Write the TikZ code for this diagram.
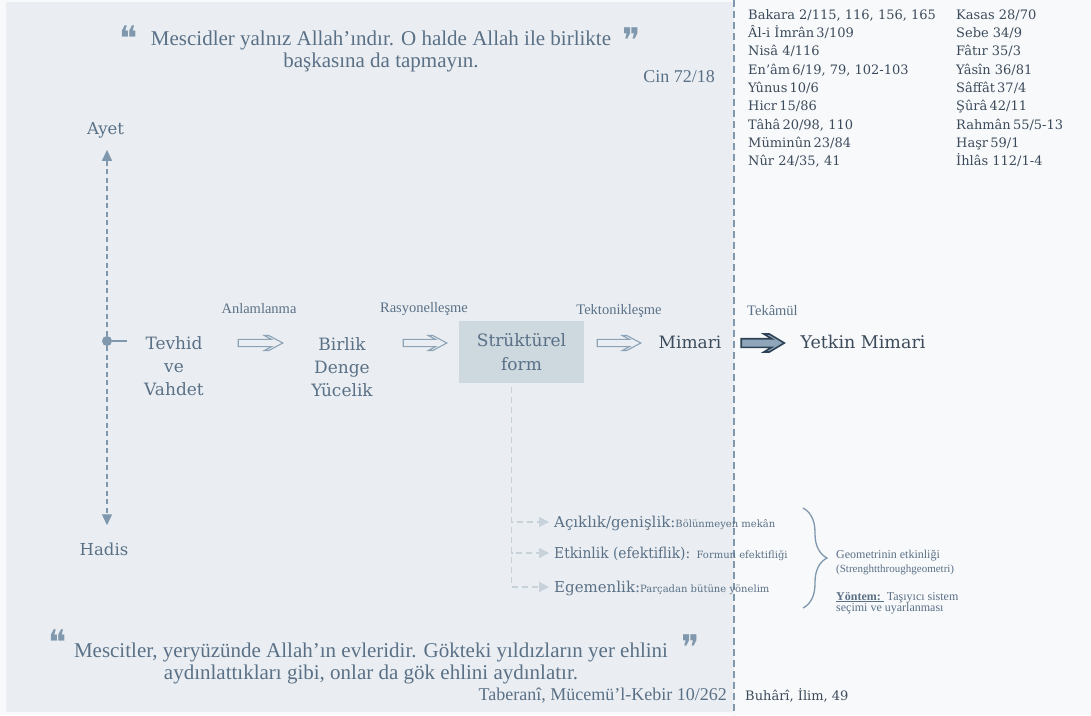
\documentclass[tikz,border=0pt]{standalone}
\usepackage{fontspec}
\setmainfont{DejaVu Serif}
\newfontfamily\djv{DejaVu Serif}
\newfontfamily\djs{DejaVu Sans}
\newfontfamily\tms{Liberation Serif}
\usetikzlibrary{arrows.meta,decorations.pathreplacing,calc}

\definecolor{pagebg}{HTML}{F8F9FB}
\definecolor{panelbg}{HTML}{EAEEF2}
\definecolor{boxbg}{HTML}{CDD8DF}
\definecolor{ink}{HTML}{5A7086}
\definecolor{inkdark}{HTML}{3C4B5B}
\definecolor{accent}{HTML}{7F98AE}
\definecolor{flowline}{HTML}{8CA2B6}
\definecolor{treeline}{HTML}{C8D2DB}
\definecolor{navy}{HTML}{2E4355}
\definecolor{steel}{HTML}{8FA5B9}

\newcommand\fs[2]{\fontsize{#1}{#2}\selectfont}

\begin{document}
\begin{tikzpicture}[x=1pt,y=-1pt,
  every node/.style={inner sep=0pt},
  maintxt/.style={font=\djv\fs{17}{23}, text=ink, align=center},
  tag/.style={font=\tms\fs{14.5}{17}, text=ink},
  quotetxt/.style={font=\tms\fs{21}{22}, text=ink, align=center},
  cite/.style={font=\tms\fs{18}{20}, text=ink},
  qmark/.style={font=\djs\fs{34}{34}, text=accent},
  reftxt/.style={font=\djv\fs{13}{16}, text=inkdark},
  itemtxt/.style={font=\djv\fs{15}{18}, text=ink},
  notetxt/.style={font=\tms\fs{12}{12}, text=ink},
  % outlined "implies" block arrow: shaft half height, head half height, head length, arm thickness
  fat/.style n args={4}{to path={let \p1=(\tikztostart), \p2=(\tikztotarget) in
      (\x1,{\y1+#1pt}) -- ({\x2-(#4+#1*#3/#2)*1pt},{\y1+#1pt}) -- ({\x2-(#4+#3)*1pt},{\y1+#2pt})
      -- ({\x2-#3pt},{\y1+#2pt}) -- (\x2,\y1) -- ({\x2-#3pt},{\y1-#2pt})
      -- ({\x2-(#4+#3)*1pt},{\y1-#2pt}) -- ({\x2-(#4+#1*#3/#2)*1pt},{\y1-#1pt})
      -- (\x1,{\y1-#1pt}) -- cycle}},
  flowarrow/.style={fat={3.6}{7.5}{14}{4.5}, draw=flowline, line width=1.1pt, line join=miter},
  strongarrow/.style={fat={4.3}{9}{15}{5.5}, draw=navy, fill=steel, line width=1.6pt, line join=miter},
  axisline/.style={draw=accent, line width=1.2pt, dash pattern=on 5pt off 3.5pt, -{Triangle[length=11pt,width=10pt]}},
  branchline/.style={draw=treeline, line width=1.1pt, dash pattern=on 6pt off 4pt, -{Triangle[length=10pt,width=10pt]}}
]
% backgrounds
\fill[pagebg] (0,0) rectangle (1091,715);
\useasboundingbox (0,0) rectangle (1091,715);
\fill[panelbg] (6,2) rectangle (734,712);
\draw[accent, line width=1.3pt, dash pattern=on 7pt off 4pt] (734,0) -- (734,715);

% top verse
\node[quotetxt, anchor=north] (ayah) at (381,31) {Mescidler yalnız Allah’ındır. O halde Allah ile birlikte\\başkasına da tapmayın.};
\node[qmark] (ayahopen) at (129,38) {❝};
\node[qmark] (ayahclose) at (632,40) {❞};
\node[cite, anchor=base east] (ayahsrc) at (715,82) {Cin 72/18};

% sources axis
\node[maintxt, font=\djv\fs{16.5}{20}, anchor=base] (ayet) at (105.5,134) {Ayet};
\node[maintxt, font=\djv\fs{16.5}{20}, anchor=base] (hadis) at (104,555) {Hadis};
\node[circle, fill=accent, minimum size=10pt] (hub) at (107,341) {};

% main chain
\node[maintxt, minimum width=64pt, anchor=north] (tevhid) at (174,336) {Tevhid\\ve\\Vahdet};
\node[maintxt, minimum width=64pt, anchor=north] (birlik) at (342,337) {Birlik\\Denge\\Yücelik};
\node[maintxt, fill=boxbg, minimum width=125pt, minimum height=62pt, font=\djv\fs{17}{24}] (sform) at (521.5,352) {Strüktürel\\form};
\node[maintxt, text=inkdark, minimum width=66pt] (mimari) at (690,342) {Mimari};
\node[maintxt, text=inkdark, minimum width=124pt, font=\djv\fs{17.5}{20}] (yetkin) at (863,342) {Yetkin Mimari};

\draw[axisline, shorten >=12pt] (hub) -- (hub |- ayet.south);
\draw[axisline, shorten >=17pt] (hub) -- (hub |- hadis.north);
\draw[accent, line width=1.2pt, shorten >=15pt] (hub) -- (hub -| tevhid.west);

\coordinate (row) at (0,343);
\draw[flowarrow] ([xshift=32pt]tevhid.east |- row) to ([xshift=-27pt]birlik.west |- row);
\draw[flowarrow] ([xshift=29pt]birlik.east |- row) to ([xshift=-12pt]sform.west |- row);
\draw[flowarrow] ([xshift=13pt]sform.east |- row) to ([xshift=-16pt]mimari.west |- row);
\draw[strongarrow] ([xshift=18pt]mimari.east |- row) to ([xshift=-16pt]yetkin.west |- row);

\node[tag] (l1) at (259,309) {Anlamlanma};
\node[tag] (l2) at (424,309) {Rasyonelleşme};
\node[tag] (l3) at (619,311) {Tektonikleşme};
\node[tag, anchor=west] (l4) at (747,311) {Tekâmül};

% qualities of the structural form
\node[itemtxt, anchor=base west] (it1) at (554,527) {Açıklık/genişlik:{\fs{10}{12}Bölünmeyen mekân}};
\node[itemtxt, anchor=base west] (it2) at (554,558) {{\addfontfeature{FakeStretch=0.92}Etkinlik (efektiflik):} {\fs{10}{12}Formun efektifliği}};
\node[itemtxt, anchor=base west] (it3) at (554,592) {Egemenlik:{\fs{10}{12}Parçadan bütüne yönelim}};
\foreach \n in {it1,it2,it3}
  \draw[branchline, shorten <=4pt, shorten >=5pt] ([xshift=-10pt]sform.south) |- ([yshift=5pt]\n.base west);

\draw[accent, line width=1.3pt, decorate, decoration={brace, amplitude=24pt}] (803,508) -- (803,608);
\node[notetxt, anchor=base west] (g1) at (836,558) {Geometrinin etkinliği};
\node[notetxt, font=\tms\fs{11}{12}, anchor=base west] (g2) at (836,572) {(Strenghtthroughgeometri)};
\node[notetxt, anchor=base west] (g3) at (836,600) {\underline{\textbf{Yöntem:}\ }\ Taşıyıcı sistem};
\node[notetxt, anchor=base west] (g4) at (836,611) {seçimi ve uyarlanması};

% bottom hadith
\node[quotetxt, anchor=north] (hadith) at (371,643) {Mescitler, yeryüzünde Allah’ın evleridir. Gökteki yıldızların yer ehlini\\aydınlattıkları gibi, onlar da gök ehlini aydınlatır.};
\node[qmark] (hadithopen) at (58,642) {❝};
\node[qmark] (hadithclose) at (691,647) {❞};
\node[cite, anchor=base east] (hadithsrc) at (727,700) {Taberanî, Mücemü’l-Kebir 10/262};
\node[reftxt, anchor=base west] (buhari) at (745,700) {Buhârî, İlim, 49};

% verse references
\foreach \t [count=\i] in {{Bakara 2/115, 116, 156, 165},{Âl-i İmrân\,3/109},{Nisâ 4/116},{En’âm\,6/19, 79, 102-103},{Yûnus\,10/6},{Hicr\,15/86},{Tâhâ\,20/98, 110},{Müminûn\,23/84},{Nûr 24/35, 41}}
  \node[reftxt, anchor=base west] (ra\i) at (748,{19+18.35*(\i-1)}) {\t};
\foreach \t [count=\i] in {{Kasas 28/70},{Sebe 34/9},{Fâtır 35/3},{Yâsîn 36/81},{Sâffât\,37/4},{Şûrâ\,42/11},{Rahmân\,55/5-13},{Haşr\,59/1},{İhlâs 112/1-4}}
  \node[reftxt, anchor=base west] (rb\i) at (956,{19+18.35*(\i-1)}) {\t};
\end{tikzpicture}
\end{document}
